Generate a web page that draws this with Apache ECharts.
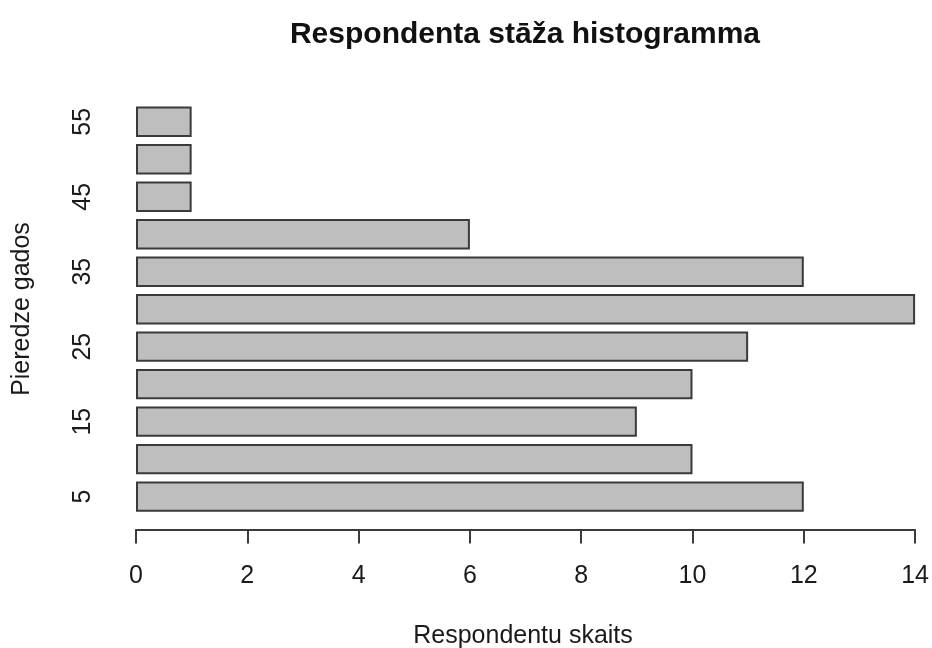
<!DOCTYPE html>
<html>
<head>
<meta charset="utf-8">
<script src="https://cdn.jsdelivr.net/npm/echarts@6/dist/echarts.min.js"></script>
<style>
  html, body { margin: 0; padding: 0; background: #ffffff; }
  #chart { width: 932px; height: 648px; }
</style>
</head>
<body>
<div id="chart"></div>
<script>
// Work experience bins (years) and number of respondents in each bin
const experienceYears = ['5', '10', '15', '20', '25', '30', '35', '40', '45', '50', '55'];
const respondentCounts = [12, 10, 9, 10, 11, 14, 12, 6, 1, 1, 1];
const countTicks = { min: 0, max: 14, step: 2 };

const chartTitle = 'Respondenta stāža histogramma';
const xTitle = 'Respondentu skaits';
const yTitle = 'Pieredze gados';

const FONT = '"Liberation Sans", Arial, Helvetica, sans-serif';
const INK = '#1a1a1a';

const chart = echarts.init(document.getElementById('chart'), null, { renderer: 'canvas' });

chart.setOption({
  backgroundColor: '#ffffff',
  animation: false,
  title: {
    text: chartTitle,
    left: 520,
    top: 15,
    textAlign: 'center',
    textStyle: { fontFamily: FONT, fontSize: 30, fontWeight: 'bold', color: '#111' }
  },
  graphic: [
    {
      type: 'text',
      x: 523, y: 636,
      style: {
        text: xTitle, fontFamily: FONT, fontSize: 25, fill: INK,
        textAlign: 'center', textVerticalAlign: 'middle'
      }
    },
    {
      type: 'text',
      x: 22, y: 309,
      rotation: Math.PI / 2,
      style: {
        text: yTitle, fontFamily: FONT, fontSize: 25, fill: INK,
        textAlign: 'center', textVerticalAlign: 'middle'
      }
    }
  ],
  grid: { left: 136, right: 14.7, top: 103, bottom: 132.6, containLabel: false },
  xAxis: {
    type: 'value',
    min: countTicks.min,
    max: countTicks.max,
    interval: countTicks.step,
    offset: 14,
    axisLine: { show: true, lineStyle: { color: '#3a3a3a', width: 2 } },
    axisTick: { show: true, length: 14, lineStyle: { color: '#3a3a3a', width: 2 } },
    axisLabel: { margin: 34, fontFamily: FONT, fontSize: 25, color: INK },
    splitLine: { show: false }
  },
  yAxis: {
    type: 'category',
    data: experienceYears,
    axisLine: { show: false },
    axisTick: { show: false },
    axisLabel: {
      interval: 1, rotate: 90, margin: 40,
      fontFamily: FONT, fontSize: 25, color: INK
    },
    splitLine: { show: false }
  },
  series: [{
    type: 'bar',
    data: respondentCounts,
    barCategoryGap: '19%',
    itemStyle: { color: '#bebebe', borderColor: '#3a3a3a', borderWidth: 2 },
    silent: true
  }]
});
</script>
</body>
</html>
